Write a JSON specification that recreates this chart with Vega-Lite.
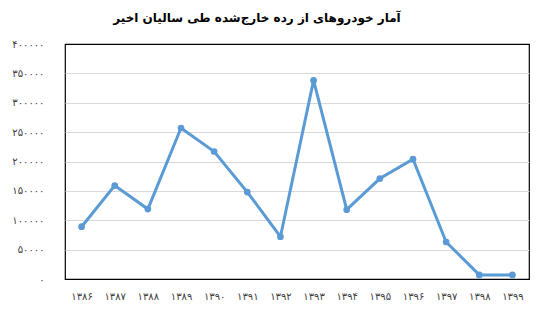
{
  "$schema": "https://vega.github.io/schema/vega-lite/v6.json",
  "width": 464,
  "height": 235,
  "autosize": {"type": "none"},
  "padding": {"left": 65, "top": 44, "right": 8, "bottom": 31},
  "background": "white",
  "title": {
    "text": "آمار خودروهای از رده خارج‌شده طی سالیان اخیر",
    "font": "DejaVu Sans",
    "fontSize": 12,
    "fontWeight": "bold",
    "color": "#000000",
    "anchor": "middle",
    "dx": -40,
    "offset": 14
  },
  "config": {
    "view": {"stroke": "#000000", "strokeWidth": 1.2},
    "axis": {"labelFont": "DejaVu Sans", "labelColor": "#404040", "labelFontSize": 10}
  },
  "data": {
    "values": [
      {"year": "۱۳۸۶", "count": 89000},
      {"year": "۱۳۸۷", "count": 159000},
      {"year": "۱۳۸۸", "count": 119000},
      {"year": "۱۳۸۹", "count": 257000},
      {"year": "۱۳۹۰", "count": 217000},
      {"year": "۱۳۹۱", "count": 148000},
      {"year": "۱۳۹۲", "count": 72000},
      {"year": "۱۳۹۳", "count": 338000},
      {"year": "۱۳۹۴", "count": 118000},
      {"year": "۱۳۹۵", "count": 171000},
      {"year": "۱۳۹۶", "count": 204000},
      {"year": "۱۳۹۷", "count": 63000},
      {"year": "۱۳۹۸", "count": 7000},
      {"year": "۱۳۹۹", "count": 7000}
    ]
  },
  "encoding": {
    "x": {
      "field": "year",
      "type": "ordinal",
      "sort": null,
      "scale": {"type": "point", "padding": 0.5},
      "axis": {"title": null, "labelAngle": 0, "domain": false, "ticks": false, "grid": false, "labelPadding": 12}
    },
    "y": {
      "field": "count",
      "type": "quantitative",
      "scale": {"domain": [0, 400000], "nice": false},
      "axis": {
        "title": null,
        "values": [0, 50000, 100000, 150000, 200000, 250000, 300000, 350000, 400000],
        "domain": false,
        "ticks": false,
        "labelPadding": 21,
        "gridColor": {"condition": {"test": "datum.value == 0 || datum.value == 400000", "value": "#000000"}, "value": "#d9d9d9"},
        "gridWidth": {"condition": {"test": "datum.value == 0 || datum.value == 400000", "value": 1.2}, "value": 1},
        "labelExpr": "replace(replace(replace(replace(replace(replace(toString(datum.value),/0/g,'۰'),/1/g,'۱'),/2/g,'۲'),/3/g,'۳'),/4/g,'۴'),/5/g,'۵')"
      }
    }
  },
  "layer": [
    {"mark": {"type": "line", "color": "#5b9bd5", "strokeWidth": 3}},
    {"mark": {"type": "point", "filled": true, "color": "#5b9bd5", "opacity": 1, "size": 45}}
  ]
}
